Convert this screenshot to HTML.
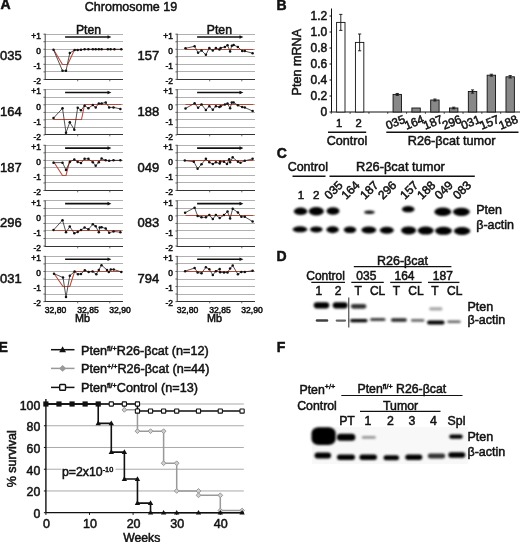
<!DOCTYPE html>
<html><head><meta charset="utf-8"><style>
html,body{margin:0;padding:0;background:#fff;}
svg{display:block;}
text{font-family:"Liberation Sans", Arial, Helvetica, sans-serif;stroke:#111;stroke-width:0.5px;paint-order:stroke;}
</style></head><body>
<svg width="520" height="542" viewBox="0 0 520 542">
<defs><filter id="b5" x="-50%" y="-100%" width="200%" height="300%"><feGaussianBlur stdDeviation="0.5"/></filter><filter id="b8" x="-50%" y="-100%" width="200%" height="300%"><feGaussianBlur stdDeviation="0.8"/></filter><filter id="b10" x="-50%" y="-100%" width="200%" height="300%"><feGaussianBlur stdDeviation="1.0"/></filter><filter id="b15" x="-50%" y="-100%" width="200%" height="300%"><feGaussianBlur stdDeviation="1.5"/></filter><filter id="b20" x="-50%" y="-100%" width="200%" height="300%"><feGaussianBlur stdDeviation="2.0"/></filter></defs>
<rect width="520" height="542" fill="#fff"/>
<text x="0.50" y="9.40" font-size="14" text-anchor="start" font-weight="bold" fill="#111" >A</text>
<text x="131.00" y="11.00" font-size="12.5" text-anchor="middle" font-weight="normal" fill="#111" >Chromosome 19</text>
<line x1="45.20" y1="34.50" x2="123.00" y2="34.50" stroke="#b0b0b0" stroke-width="1"/>
<line x1="45.20" y1="41.50" x2="123.00" y2="41.50" stroke="#b0b0b0" stroke-width="1"/>
<line x1="45.20" y1="49.50" x2="123.00" y2="49.50" stroke="#b0b0b0" stroke-width="1"/>
<line x1="45.20" y1="56.50" x2="123.00" y2="56.50" stroke="#b0b0b0" stroke-width="1"/>
<line x1="45.20" y1="64.50" x2="123.00" y2="64.50" stroke="#b0b0b0" stroke-width="1"/>
<line x1="45.20" y1="71.50" x2="123.00" y2="71.50" stroke="#b0b0b0" stroke-width="1"/>
<line x1="45.20" y1="33.70" x2="45.20" y2="80.00" stroke="#444" stroke-width="1"/>
<line x1="44.70" y1="79.50" x2="123.00" y2="79.50" stroke="#333" stroke-width="1"/>
<line x1="43.40" y1="34.20" x2="45.20" y2="34.20" stroke="#444" stroke-width="0.8"/>
<line x1="43.40" y1="41.73" x2="45.20" y2="41.73" stroke="#444" stroke-width="0.8"/>
<line x1="43.40" y1="49.27" x2="45.20" y2="49.27" stroke="#444" stroke-width="0.8"/>
<line x1="43.40" y1="56.81" x2="45.20" y2="56.81" stroke="#444" stroke-width="0.8"/>
<line x1="43.40" y1="64.34" x2="45.20" y2="64.34" stroke="#444" stroke-width="0.8"/>
<line x1="43.40" y1="71.88" x2="45.20" y2="71.88" stroke="#444" stroke-width="0.8"/>
<line x1="43.40" y1="79.41" x2="45.20" y2="79.41" stroke="#444" stroke-width="0.8"/>
<line x1="77.70" y1="79.50" x2="77.70" y2="81.30" stroke="#444" stroke-width="0.8"/>
<line x1="109.80" y1="79.50" x2="109.80" y2="81.30" stroke="#444" stroke-width="0.8"/>
<text x="40.90" y="38.90" font-size="8.4" text-anchor="end" font-weight="normal" fill="#111" >+1</text>
<text x="40.90" y="53.97" font-size="8.4" text-anchor="end" font-weight="normal" fill="#111" >0</text>
<text x="40.90" y="69.04" font-size="8.4" text-anchor="end" font-weight="normal" fill="#111" >-1</text>
<text x="40.90" y="84.11" font-size="8.4" text-anchor="end" font-weight="normal" fill="#111" >-2</text>
<line x1="65.10" y1="37.00" x2="108.70" y2="37.00" stroke="#111" stroke-width="1.6"/>
<path d="M107.50,35.20 L111.40,37.00 L107.50,38.80 Z" fill="#111"/>
<text x="88.50" y="33.60" font-size="12.2" text-anchor="middle" font-weight="normal" fill="#111" >Pten</text>
<text x="0.00" y="60.40" font-size="13" text-anchor="start" font-weight="normal" fill="#111" >035</text>
<polyline points="53.50,49.50 62.50,64.50 67.70,64.50 74.60,49.50 121.30,49.50" fill="none" stroke="#b8483a" stroke-width="1.05"/>
<polyline points="53.50,49.72 62.50,70.82 66.00,70.82 69.80,53.04 74.60,50.02 77.70,50.02 81.00,49.72 84.60,49.27 88.40,49.27 92.80,49.27 95.70,49.27 98.80,49.27 101.60,49.27 107.80,49.27 110.60,49.27 114.40,49.27 121.30,49.27" fill="none" stroke="#333" stroke-width="0.85"/>
<circle cx="53.50" cy="49.72" r="1.25" fill="#111"/>
<circle cx="62.50" cy="70.82" r="1.25" fill="#111"/>
<circle cx="66.00" cy="70.82" r="1.25" fill="#111"/>
<circle cx="69.80" cy="53.04" r="1.25" fill="#111"/>
<circle cx="74.60" cy="50.02" r="1.25" fill="#111"/>
<circle cx="77.70" cy="50.02" r="1.25" fill="#111"/>
<circle cx="81.00" cy="49.72" r="1.25" fill="#111"/>
<circle cx="84.60" cy="49.27" r="1.25" fill="#111"/>
<circle cx="88.40" cy="49.27" r="1.25" fill="#111"/>
<circle cx="92.80" cy="49.27" r="1.25" fill="#111"/>
<circle cx="95.70" cy="49.27" r="1.25" fill="#111"/>
<circle cx="98.80" cy="49.27" r="1.25" fill="#111"/>
<circle cx="101.60" cy="49.27" r="1.25" fill="#111"/>
<circle cx="107.80" cy="49.27" r="1.25" fill="#111"/>
<circle cx="110.60" cy="49.27" r="1.25" fill="#111"/>
<circle cx="114.40" cy="49.27" r="1.25" fill="#111"/>
<circle cx="121.30" cy="49.27" r="1.25" fill="#111"/>
<line x1="45.20" y1="89.50" x2="123.00" y2="89.50" stroke="#b0b0b0" stroke-width="1"/>
<line x1="45.20" y1="97.50" x2="123.00" y2="97.50" stroke="#b0b0b0" stroke-width="1"/>
<line x1="45.20" y1="104.50" x2="123.00" y2="104.50" stroke="#b0b0b0" stroke-width="1"/>
<line x1="45.20" y1="112.50" x2="123.00" y2="112.50" stroke="#b0b0b0" stroke-width="1"/>
<line x1="45.20" y1="119.50" x2="123.00" y2="119.50" stroke="#b0b0b0" stroke-width="1"/>
<line x1="45.20" y1="127.50" x2="123.00" y2="127.50" stroke="#b0b0b0" stroke-width="1"/>
<line x1="45.20" y1="89.25" x2="45.20" y2="135.00" stroke="#444" stroke-width="1"/>
<line x1="44.70" y1="134.50" x2="123.00" y2="134.50" stroke="#333" stroke-width="1"/>
<line x1="43.40" y1="89.75" x2="45.20" y2="89.75" stroke="#444" stroke-width="0.8"/>
<line x1="43.40" y1="97.28" x2="45.20" y2="97.28" stroke="#444" stroke-width="0.8"/>
<line x1="43.40" y1="104.82" x2="45.20" y2="104.82" stroke="#444" stroke-width="0.8"/>
<line x1="43.40" y1="112.36" x2="45.20" y2="112.36" stroke="#444" stroke-width="0.8"/>
<line x1="43.40" y1="119.89" x2="45.20" y2="119.89" stroke="#444" stroke-width="0.8"/>
<line x1="43.40" y1="127.42" x2="45.20" y2="127.42" stroke="#444" stroke-width="0.8"/>
<line x1="43.40" y1="134.96" x2="45.20" y2="134.96" stroke="#444" stroke-width="0.8"/>
<line x1="77.70" y1="134.50" x2="77.70" y2="136.30" stroke="#444" stroke-width="0.8"/>
<line x1="109.80" y1="134.50" x2="109.80" y2="136.30" stroke="#444" stroke-width="0.8"/>
<text x="40.90" y="94.45" font-size="8.4" text-anchor="end" font-weight="normal" fill="#111" >+1</text>
<text x="40.90" y="109.52" font-size="8.4" text-anchor="end" font-weight="normal" fill="#111" >0</text>
<text x="40.90" y="124.59" font-size="8.4" text-anchor="end" font-weight="normal" fill="#111" >-1</text>
<text x="40.90" y="139.66" font-size="8.4" text-anchor="end" font-weight="normal" fill="#111" >-2</text>
<line x1="65.10" y1="92.55" x2="108.70" y2="92.55" stroke="#111" stroke-width="1.6"/>
<path d="M107.50,90.75 L111.40,92.55 L107.50,94.35 Z" fill="#111"/>
<text x="0.00" y="115.95" font-size="13" text-anchor="start" font-weight="normal" fill="#111" >164</text>
<polyline points="53.50,119.50 81.50,119.50 84.60,104.50 121.30,104.50" fill="none" stroke="#b8483a" stroke-width="1.05"/>
<polyline points="53.50,118.08 62.50,108.29 66.00,132.70 69.80,122.30 74.30,129.69 77.70,107.68 81.00,110.25 84.60,105.72 88.40,108.14 92.80,105.12 95.70,107.38 98.80,103.46 101.60,103.46 105.70,102.56 109.20,107.38 113.50,107.38 120.40,108.89" fill="none" stroke="#333" stroke-width="0.85"/>
<circle cx="53.50" cy="118.08" r="1.25" fill="#111"/>
<circle cx="62.50" cy="108.29" r="1.25" fill="#111"/>
<circle cx="66.00" cy="132.70" r="1.25" fill="#111"/>
<circle cx="69.80" cy="122.30" r="1.25" fill="#111"/>
<circle cx="74.30" cy="129.69" r="1.25" fill="#111"/>
<circle cx="77.70" cy="107.68" r="1.25" fill="#111"/>
<circle cx="81.00" cy="110.25" r="1.25" fill="#111"/>
<circle cx="84.60" cy="105.72" r="1.25" fill="#111"/>
<circle cx="88.40" cy="108.14" r="1.25" fill="#111"/>
<circle cx="92.80" cy="105.12" r="1.25" fill="#111"/>
<circle cx="95.70" cy="107.38" r="1.25" fill="#111"/>
<circle cx="98.80" cy="103.46" r="1.25" fill="#111"/>
<circle cx="101.60" cy="103.46" r="1.25" fill="#111"/>
<circle cx="105.70" cy="102.56" r="1.25" fill="#111"/>
<circle cx="109.20" cy="107.38" r="1.25" fill="#111"/>
<circle cx="113.50" cy="107.38" r="1.25" fill="#111"/>
<circle cx="120.40" cy="108.89" r="1.25" fill="#111"/>
<line x1="45.20" y1="145.50" x2="123.00" y2="145.50" stroke="#b0b0b0" stroke-width="1"/>
<line x1="45.20" y1="152.50" x2="123.00" y2="152.50" stroke="#b0b0b0" stroke-width="1"/>
<line x1="45.20" y1="160.50" x2="123.00" y2="160.50" stroke="#b0b0b0" stroke-width="1"/>
<line x1="45.20" y1="167.50" x2="123.00" y2="167.50" stroke="#b0b0b0" stroke-width="1"/>
<line x1="45.20" y1="175.50" x2="123.00" y2="175.50" stroke="#b0b0b0" stroke-width="1"/>
<line x1="45.20" y1="182.50" x2="123.00" y2="182.50" stroke="#b0b0b0" stroke-width="1"/>
<line x1="45.20" y1="144.80" x2="45.20" y2="191.00" stroke="#444" stroke-width="1"/>
<line x1="44.70" y1="190.50" x2="123.00" y2="190.50" stroke="#333" stroke-width="1"/>
<line x1="43.40" y1="145.30" x2="45.20" y2="145.30" stroke="#444" stroke-width="0.8"/>
<line x1="43.40" y1="152.84" x2="45.20" y2="152.84" stroke="#444" stroke-width="0.8"/>
<line x1="43.40" y1="160.37" x2="45.20" y2="160.37" stroke="#444" stroke-width="0.8"/>
<line x1="43.40" y1="167.91" x2="45.20" y2="167.91" stroke="#444" stroke-width="0.8"/>
<line x1="43.40" y1="175.44" x2="45.20" y2="175.44" stroke="#444" stroke-width="0.8"/>
<line x1="43.40" y1="182.98" x2="45.20" y2="182.98" stroke="#444" stroke-width="0.8"/>
<line x1="43.40" y1="190.51" x2="45.20" y2="190.51" stroke="#444" stroke-width="0.8"/>
<line x1="77.70" y1="190.50" x2="77.70" y2="192.30" stroke="#444" stroke-width="0.8"/>
<line x1="109.80" y1="190.50" x2="109.80" y2="192.30" stroke="#444" stroke-width="0.8"/>
<text x="40.90" y="150.00" font-size="8.4" text-anchor="end" font-weight="normal" fill="#111" >+1</text>
<text x="40.90" y="165.07" font-size="8.4" text-anchor="end" font-weight="normal" fill="#111" >0</text>
<text x="40.90" y="180.14" font-size="8.4" text-anchor="end" font-weight="normal" fill="#111" >-1</text>
<text x="40.90" y="195.21" font-size="8.4" text-anchor="end" font-weight="normal" fill="#111" >-2</text>
<line x1="65.10" y1="148.10" x2="108.70" y2="148.10" stroke="#111" stroke-width="1.6"/>
<path d="M107.50,146.30 L111.40,148.10 L107.50,149.90 Z" fill="#111"/>
<text x="0.00" y="171.50" font-size="13" text-anchor="start" font-weight="normal" fill="#111" >187</text>
<polyline points="53.50,161.50 62.50,175.50 66.00,175.50 69.80,160.50 121.30,160.50" fill="none" stroke="#b8483a" stroke-width="1.05"/>
<polyline points="53.50,162.63 62.50,162.63 66.00,170.01 69.80,161.88 74.30,159.62 77.70,161.88 81.00,162.93 84.60,158.86 88.40,158.86 92.80,162.18 95.70,165.80 98.80,162.18 101.60,158.56 105.70,160.37 109.20,160.82 113.50,160.37 120.40,160.37" fill="none" stroke="#333" stroke-width="0.85"/>
<circle cx="53.50" cy="162.63" r="1.25" fill="#111"/>
<circle cx="62.50" cy="162.63" r="1.25" fill="#111"/>
<circle cx="66.00" cy="170.01" r="1.25" fill="#111"/>
<circle cx="69.80" cy="161.88" r="1.25" fill="#111"/>
<circle cx="74.30" cy="159.62" r="1.25" fill="#111"/>
<circle cx="77.70" cy="161.88" r="1.25" fill="#111"/>
<circle cx="81.00" cy="162.93" r="1.25" fill="#111"/>
<circle cx="84.60" cy="158.86" r="1.25" fill="#111"/>
<circle cx="88.40" cy="158.86" r="1.25" fill="#111"/>
<circle cx="92.80" cy="162.18" r="1.25" fill="#111"/>
<circle cx="95.70" cy="165.80" r="1.25" fill="#111"/>
<circle cx="98.80" cy="162.18" r="1.25" fill="#111"/>
<circle cx="101.60" cy="158.56" r="1.25" fill="#111"/>
<circle cx="105.70" cy="160.37" r="1.25" fill="#111"/>
<circle cx="109.20" cy="160.82" r="1.25" fill="#111"/>
<circle cx="113.50" cy="160.37" r="1.25" fill="#111"/>
<circle cx="120.40" cy="160.37" r="1.25" fill="#111"/>
<line x1="45.20" y1="200.50" x2="123.00" y2="200.50" stroke="#b0b0b0" stroke-width="1"/>
<line x1="45.20" y1="208.50" x2="123.00" y2="208.50" stroke="#b0b0b0" stroke-width="1"/>
<line x1="45.20" y1="215.50" x2="123.00" y2="215.50" stroke="#b0b0b0" stroke-width="1"/>
<line x1="45.20" y1="223.50" x2="123.00" y2="223.50" stroke="#b0b0b0" stroke-width="1"/>
<line x1="45.20" y1="230.50" x2="123.00" y2="230.50" stroke="#b0b0b0" stroke-width="1"/>
<line x1="45.20" y1="238.50" x2="123.00" y2="238.50" stroke="#b0b0b0" stroke-width="1"/>
<line x1="45.20" y1="200.35" x2="45.20" y2="247.00" stroke="#444" stroke-width="1"/>
<line x1="44.70" y1="246.50" x2="123.00" y2="246.50" stroke="#333" stroke-width="1"/>
<line x1="43.40" y1="200.85" x2="45.20" y2="200.85" stroke="#444" stroke-width="0.8"/>
<line x1="43.40" y1="208.38" x2="45.20" y2="208.38" stroke="#444" stroke-width="0.8"/>
<line x1="43.40" y1="215.92" x2="45.20" y2="215.92" stroke="#444" stroke-width="0.8"/>
<line x1="43.40" y1="223.45" x2="45.20" y2="223.45" stroke="#444" stroke-width="0.8"/>
<line x1="43.40" y1="230.99" x2="45.20" y2="230.99" stroke="#444" stroke-width="0.8"/>
<line x1="43.40" y1="238.52" x2="45.20" y2="238.52" stroke="#444" stroke-width="0.8"/>
<line x1="43.40" y1="246.06" x2="45.20" y2="246.06" stroke="#444" stroke-width="0.8"/>
<line x1="77.70" y1="246.50" x2="77.70" y2="248.30" stroke="#444" stroke-width="0.8"/>
<line x1="109.80" y1="246.50" x2="109.80" y2="248.30" stroke="#444" stroke-width="0.8"/>
<text x="40.90" y="205.55" font-size="8.4" text-anchor="end" font-weight="normal" fill="#111" >+1</text>
<text x="40.90" y="220.62" font-size="8.4" text-anchor="end" font-weight="normal" fill="#111" >0</text>
<text x="40.90" y="235.69" font-size="8.4" text-anchor="end" font-weight="normal" fill="#111" >-1</text>
<text x="40.90" y="250.76" font-size="8.4" text-anchor="end" font-weight="normal" fill="#111" >-2</text>
<line x1="65.10" y1="203.65" x2="108.70" y2="203.65" stroke="#111" stroke-width="1.6"/>
<path d="M107.50,201.85 L111.40,203.65 L107.50,205.45 Z" fill="#111"/>
<text x="0.00" y="227.05" font-size="13" text-anchor="start" font-weight="normal" fill="#111" >296</text>
<polyline points="53.50,230.50 121.30,230.50" fill="none" stroke="#b8483a" stroke-width="1.05"/>
<polyline points="53.50,230.09 62.50,220.14 66.00,232.35 69.80,226.62 74.30,233.25 77.70,231.89 81.00,230.09 84.60,227.52 88.40,229.33 92.80,224.36 95.70,226.17 98.80,232.35 99.70,227.52 101.60,227.22 105.70,228.43 109.20,232.65 113.50,231.44 120.40,232.20" fill="none" stroke="#333" stroke-width="0.85"/>
<circle cx="53.50" cy="230.09" r="1.25" fill="#111"/>
<circle cx="62.50" cy="220.14" r="1.25" fill="#111"/>
<circle cx="66.00" cy="232.35" r="1.25" fill="#111"/>
<circle cx="69.80" cy="226.62" r="1.25" fill="#111"/>
<circle cx="74.30" cy="233.25" r="1.25" fill="#111"/>
<circle cx="77.70" cy="231.89" r="1.25" fill="#111"/>
<circle cx="81.00" cy="230.09" r="1.25" fill="#111"/>
<circle cx="84.60" cy="227.52" r="1.25" fill="#111"/>
<circle cx="88.40" cy="229.33" r="1.25" fill="#111"/>
<circle cx="92.80" cy="224.36" r="1.25" fill="#111"/>
<circle cx="95.70" cy="226.17" r="1.25" fill="#111"/>
<circle cx="98.80" cy="232.35" r="1.25" fill="#111"/>
<circle cx="99.70" cy="227.52" r="1.25" fill="#111"/>
<circle cx="101.60" cy="227.22" r="1.25" fill="#111"/>
<circle cx="105.70" cy="228.43" r="1.25" fill="#111"/>
<circle cx="109.20" cy="232.65" r="1.25" fill="#111"/>
<circle cx="113.50" cy="231.44" r="1.25" fill="#111"/>
<circle cx="120.40" cy="232.20" r="1.25" fill="#111"/>
<line x1="45.20" y1="256.50" x2="123.00" y2="256.50" stroke="#b0b0b0" stroke-width="1"/>
<line x1="45.20" y1="263.50" x2="123.00" y2="263.50" stroke="#b0b0b0" stroke-width="1"/>
<line x1="45.20" y1="271.50" x2="123.00" y2="271.50" stroke="#b0b0b0" stroke-width="1"/>
<line x1="45.20" y1="279.50" x2="123.00" y2="279.50" stroke="#b0b0b0" stroke-width="1"/>
<line x1="45.20" y1="286.50" x2="123.00" y2="286.50" stroke="#b0b0b0" stroke-width="1"/>
<line x1="45.20" y1="294.50" x2="123.00" y2="294.50" stroke="#b0b0b0" stroke-width="1"/>
<line x1="45.20" y1="255.90" x2="45.20" y2="302.00" stroke="#444" stroke-width="1"/>
<line x1="44.70" y1="301.50" x2="123.00" y2="301.50" stroke="#333" stroke-width="1"/>
<line x1="43.40" y1="256.40" x2="45.20" y2="256.40" stroke="#444" stroke-width="0.8"/>
<line x1="43.40" y1="263.94" x2="45.20" y2="263.94" stroke="#444" stroke-width="0.8"/>
<line x1="43.40" y1="271.47" x2="45.20" y2="271.47" stroke="#444" stroke-width="0.8"/>
<line x1="43.40" y1="279.00" x2="45.20" y2="279.00" stroke="#444" stroke-width="0.8"/>
<line x1="43.40" y1="286.54" x2="45.20" y2="286.54" stroke="#444" stroke-width="0.8"/>
<line x1="43.40" y1="294.07" x2="45.20" y2="294.07" stroke="#444" stroke-width="0.8"/>
<line x1="43.40" y1="301.61" x2="45.20" y2="301.61" stroke="#444" stroke-width="0.8"/>
<line x1="77.70" y1="301.50" x2="77.70" y2="303.30" stroke="#444" stroke-width="0.8"/>
<line x1="109.80" y1="301.50" x2="109.80" y2="303.30" stroke="#444" stroke-width="0.8"/>
<text x="40.90" y="261.10" font-size="8.4" text-anchor="end" font-weight="normal" fill="#111" >+1</text>
<text x="40.90" y="276.17" font-size="8.4" text-anchor="end" font-weight="normal" fill="#111" >0</text>
<text x="40.90" y="291.24" font-size="8.4" text-anchor="end" font-weight="normal" fill="#111" >-1</text>
<text x="40.90" y="306.31" font-size="8.4" text-anchor="end" font-weight="normal" fill="#111" >-2</text>
<line x1="65.10" y1="259.20" x2="108.70" y2="259.20" stroke="#111" stroke-width="1.6"/>
<path d="M107.50,257.40 L111.40,259.20 L107.50,261.00 Z" fill="#111"/>
<text x="0.00" y="282.60" font-size="13" text-anchor="start" font-weight="normal" fill="#111" >031</text>
<polyline points="54.00,273.50 63.00,286.50 69.80,286.50 74.60,271.50 121.30,271.50" fill="none" stroke="#b8483a" stroke-width="1.05"/>
<polyline points="54.00,273.73 63.00,277.50 66.00,297.09 69.80,275.69 74.60,271.47 78.00,274.18 81.00,273.88 84.80,270.26 88.60,271.92 92.50,271.47 96.30,274.18 98.80,269.96 101.50,265.14 107.00,269.96 108.80,271.92 110.80,269.51 113.70,269.51 121.30,271.92" fill="none" stroke="#333" stroke-width="0.85"/>
<circle cx="54.00" cy="273.73" r="1.25" fill="#111"/>
<circle cx="63.00" cy="277.50" r="1.25" fill="#111"/>
<circle cx="66.00" cy="297.09" r="1.25" fill="#111"/>
<circle cx="69.80" cy="275.69" r="1.25" fill="#111"/>
<circle cx="74.60" cy="271.47" r="1.25" fill="#111"/>
<circle cx="78.00" cy="274.18" r="1.25" fill="#111"/>
<circle cx="81.00" cy="273.88" r="1.25" fill="#111"/>
<circle cx="84.80" cy="270.26" r="1.25" fill="#111"/>
<circle cx="88.60" cy="271.92" r="1.25" fill="#111"/>
<circle cx="92.50" cy="271.47" r="1.25" fill="#111"/>
<circle cx="96.30" cy="274.18" r="1.25" fill="#111"/>
<circle cx="98.80" cy="269.96" r="1.25" fill="#111"/>
<circle cx="101.50" cy="265.14" r="1.25" fill="#111"/>
<circle cx="107.00" cy="269.96" r="1.25" fill="#111"/>
<circle cx="108.80" cy="271.92" r="1.25" fill="#111"/>
<circle cx="110.80" cy="269.51" r="1.25" fill="#111"/>
<circle cx="113.70" cy="269.51" r="1.25" fill="#111"/>
<circle cx="121.30" cy="271.92" r="1.25" fill="#111"/>
<text x="44.70" y="312.61" font-size="8.6" text-anchor="start" font-weight="normal" fill="#111" >32,80</text>
<text x="77.20" y="312.61" font-size="8.6" text-anchor="start" font-weight="normal" fill="#111" >32,85</text>
<text x="109.30" y="312.61" font-size="8.6" text-anchor="start" font-weight="normal" fill="#111" >32,90</text>
<text x="82.40" y="322.41" font-size="10.8" text-anchor="middle" font-weight="normal" fill="#111" >Mb</text>
<line x1="177.20" y1="34.50" x2="255.00" y2="34.50" stroke="#b0b0b0" stroke-width="1"/>
<line x1="177.20" y1="41.50" x2="255.00" y2="41.50" stroke="#b0b0b0" stroke-width="1"/>
<line x1="177.20" y1="49.50" x2="255.00" y2="49.50" stroke="#b0b0b0" stroke-width="1"/>
<line x1="177.20" y1="56.50" x2="255.00" y2="56.50" stroke="#b0b0b0" stroke-width="1"/>
<line x1="177.20" y1="64.50" x2="255.00" y2="64.50" stroke="#b0b0b0" stroke-width="1"/>
<line x1="177.20" y1="71.50" x2="255.00" y2="71.50" stroke="#b0b0b0" stroke-width="1"/>
<line x1="177.20" y1="33.70" x2="177.20" y2="80.00" stroke="#444" stroke-width="1"/>
<line x1="176.70" y1="79.50" x2="255.00" y2="79.50" stroke="#333" stroke-width="1"/>
<line x1="175.40" y1="34.20" x2="177.20" y2="34.20" stroke="#444" stroke-width="0.8"/>
<line x1="175.40" y1="41.73" x2="177.20" y2="41.73" stroke="#444" stroke-width="0.8"/>
<line x1="175.40" y1="49.27" x2="177.20" y2="49.27" stroke="#444" stroke-width="0.8"/>
<line x1="175.40" y1="56.81" x2="177.20" y2="56.81" stroke="#444" stroke-width="0.8"/>
<line x1="175.40" y1="64.34" x2="177.20" y2="64.34" stroke="#444" stroke-width="0.8"/>
<line x1="175.40" y1="71.88" x2="177.20" y2="71.88" stroke="#444" stroke-width="0.8"/>
<line x1="175.40" y1="79.41" x2="177.20" y2="79.41" stroke="#444" stroke-width="0.8"/>
<line x1="209.70" y1="79.50" x2="209.70" y2="81.30" stroke="#444" stroke-width="0.8"/>
<line x1="241.80" y1="79.50" x2="241.80" y2="81.30" stroke="#444" stroke-width="0.8"/>
<text x="172.90" y="38.90" font-size="8.4" text-anchor="end" font-weight="normal" fill="#111" >+1</text>
<text x="172.90" y="53.97" font-size="8.4" text-anchor="end" font-weight="normal" fill="#111" >0</text>
<text x="172.90" y="69.04" font-size="8.4" text-anchor="end" font-weight="normal" fill="#111" >-1</text>
<text x="172.90" y="84.11" font-size="8.4" text-anchor="end" font-weight="normal" fill="#111" >-2</text>
<line x1="197.10" y1="37.00" x2="240.70" y2="37.00" stroke="#111" stroke-width="1.6"/>
<path d="M239.50,35.20 L243.40,37.00 L239.50,38.80 Z" fill="#111"/>
<text x="219.40" y="33.60" font-size="12.2" text-anchor="middle" font-weight="normal" fill="#111" >Pten</text>
<text x="137.50" y="60.40" font-size="13" text-anchor="start" font-weight="normal" fill="#111" >157</text>
<polyline points="185.50,49.50 253.30,49.50" fill="none" stroke="#b8483a" stroke-width="1.05"/>
<polyline points="185.50,48.37 194.60,46.26 198.10,52.74 201.50,50.48 205.90,54.85 209.30,47.91 212.80,50.48 215.90,47.91 219.40,49.57 220.60,47.91 224.90,47.01 227.50,45.20 230.10,51.38 231.80,45.80 233.60,44.90 237.90,47.01 242.20,51.08 244.80,51.08 252.60,53.19" fill="none" stroke="#333" stroke-width="0.85"/>
<circle cx="185.50" cy="48.37" r="1.25" fill="#111"/>
<circle cx="194.60" cy="46.26" r="1.25" fill="#111"/>
<circle cx="198.10" cy="52.74" r="1.25" fill="#111"/>
<circle cx="201.50" cy="50.48" r="1.25" fill="#111"/>
<circle cx="205.90" cy="54.85" r="1.25" fill="#111"/>
<circle cx="209.30" cy="47.91" r="1.25" fill="#111"/>
<circle cx="212.80" cy="50.48" r="1.25" fill="#111"/>
<circle cx="215.90" cy="47.91" r="1.25" fill="#111"/>
<circle cx="219.40" cy="49.57" r="1.25" fill="#111"/>
<circle cx="220.60" cy="47.91" r="1.25" fill="#111"/>
<circle cx="224.90" cy="47.01" r="1.25" fill="#111"/>
<circle cx="227.50" cy="45.20" r="1.25" fill="#111"/>
<circle cx="230.10" cy="51.38" r="1.25" fill="#111"/>
<circle cx="231.80" cy="45.80" r="1.25" fill="#111"/>
<circle cx="233.60" cy="44.90" r="1.25" fill="#111"/>
<circle cx="237.90" cy="47.01" r="1.25" fill="#111"/>
<circle cx="242.20" cy="51.08" r="1.25" fill="#111"/>
<circle cx="244.80" cy="51.08" r="1.25" fill="#111"/>
<circle cx="252.60" cy="53.19" r="1.25" fill="#111"/>
<line x1="177.20" y1="89.50" x2="255.00" y2="89.50" stroke="#b0b0b0" stroke-width="1"/>
<line x1="177.20" y1="97.50" x2="255.00" y2="97.50" stroke="#b0b0b0" stroke-width="1"/>
<line x1="177.20" y1="104.50" x2="255.00" y2="104.50" stroke="#b0b0b0" stroke-width="1"/>
<line x1="177.20" y1="112.50" x2="255.00" y2="112.50" stroke="#b0b0b0" stroke-width="1"/>
<line x1="177.20" y1="119.50" x2="255.00" y2="119.50" stroke="#b0b0b0" stroke-width="1"/>
<line x1="177.20" y1="127.50" x2="255.00" y2="127.50" stroke="#b0b0b0" stroke-width="1"/>
<line x1="177.20" y1="89.25" x2="177.20" y2="135.00" stroke="#444" stroke-width="1"/>
<line x1="176.70" y1="134.50" x2="255.00" y2="134.50" stroke="#333" stroke-width="1"/>
<line x1="175.40" y1="89.75" x2="177.20" y2="89.75" stroke="#444" stroke-width="0.8"/>
<line x1="175.40" y1="97.28" x2="177.20" y2="97.28" stroke="#444" stroke-width="0.8"/>
<line x1="175.40" y1="104.82" x2="177.20" y2="104.82" stroke="#444" stroke-width="0.8"/>
<line x1="175.40" y1="112.36" x2="177.20" y2="112.36" stroke="#444" stroke-width="0.8"/>
<line x1="175.40" y1="119.89" x2="177.20" y2="119.89" stroke="#444" stroke-width="0.8"/>
<line x1="175.40" y1="127.42" x2="177.20" y2="127.42" stroke="#444" stroke-width="0.8"/>
<line x1="175.40" y1="134.96" x2="177.20" y2="134.96" stroke="#444" stroke-width="0.8"/>
<line x1="209.70" y1="134.50" x2="209.70" y2="136.30" stroke="#444" stroke-width="0.8"/>
<line x1="241.80" y1="134.50" x2="241.80" y2="136.30" stroke="#444" stroke-width="0.8"/>
<text x="172.90" y="94.45" font-size="8.4" text-anchor="end" font-weight="normal" fill="#111" >+1</text>
<text x="172.90" y="109.52" font-size="8.4" text-anchor="end" font-weight="normal" fill="#111" >0</text>
<text x="172.90" y="124.59" font-size="8.4" text-anchor="end" font-weight="normal" fill="#111" >-1</text>
<text x="172.90" y="139.66" font-size="8.4" text-anchor="end" font-weight="normal" fill="#111" >-2</text>
<line x1="197.10" y1="92.55" x2="240.70" y2="92.55" stroke="#111" stroke-width="1.6"/>
<path d="M239.50,90.75 L243.40,92.55 L239.50,94.35 Z" fill="#111"/>
<text x="137.50" y="115.95" font-size="13" text-anchor="start" font-weight="normal" fill="#111" >188</text>
<polyline points="185.50,104.50 253.30,104.50" fill="none" stroke="#b8483a" stroke-width="1.05"/>
<polyline points="185.50,108.44 194.60,103.31 198.10,107.83 201.50,104.52 205.90,109.94 209.30,106.18 212.80,109.64 215.90,106.18 219.40,107.08 220.60,106.18 224.90,104.52 227.50,103.61 230.10,108.29 231.80,102.41 233.60,102.41 237.90,105.27 242.20,107.08 244.80,107.53 252.60,111.00" fill="none" stroke="#333" stroke-width="0.85"/>
<circle cx="185.50" cy="108.44" r="1.25" fill="#111"/>
<circle cx="194.60" cy="103.31" r="1.25" fill="#111"/>
<circle cx="198.10" cy="107.83" r="1.25" fill="#111"/>
<circle cx="201.50" cy="104.52" r="1.25" fill="#111"/>
<circle cx="205.90" cy="109.94" r="1.25" fill="#111"/>
<circle cx="209.30" cy="106.18" r="1.25" fill="#111"/>
<circle cx="212.80" cy="109.64" r="1.25" fill="#111"/>
<circle cx="215.90" cy="106.18" r="1.25" fill="#111"/>
<circle cx="219.40" cy="107.08" r="1.25" fill="#111"/>
<circle cx="220.60" cy="106.18" r="1.25" fill="#111"/>
<circle cx="224.90" cy="104.52" r="1.25" fill="#111"/>
<circle cx="227.50" cy="103.61" r="1.25" fill="#111"/>
<circle cx="230.10" cy="108.29" r="1.25" fill="#111"/>
<circle cx="231.80" cy="102.41" r="1.25" fill="#111"/>
<circle cx="233.60" cy="102.41" r="1.25" fill="#111"/>
<circle cx="237.90" cy="105.27" r="1.25" fill="#111"/>
<circle cx="242.20" cy="107.08" r="1.25" fill="#111"/>
<circle cx="244.80" cy="107.53" r="1.25" fill="#111"/>
<circle cx="252.60" cy="111.00" r="1.25" fill="#111"/>
<line x1="177.20" y1="145.50" x2="255.00" y2="145.50" stroke="#b0b0b0" stroke-width="1"/>
<line x1="177.20" y1="152.50" x2="255.00" y2="152.50" stroke="#b0b0b0" stroke-width="1"/>
<line x1="177.20" y1="160.50" x2="255.00" y2="160.50" stroke="#b0b0b0" stroke-width="1"/>
<line x1="177.20" y1="167.50" x2="255.00" y2="167.50" stroke="#b0b0b0" stroke-width="1"/>
<line x1="177.20" y1="175.50" x2="255.00" y2="175.50" stroke="#b0b0b0" stroke-width="1"/>
<line x1="177.20" y1="182.50" x2="255.00" y2="182.50" stroke="#b0b0b0" stroke-width="1"/>
<line x1="177.20" y1="144.80" x2="177.20" y2="191.00" stroke="#444" stroke-width="1"/>
<line x1="176.70" y1="190.50" x2="255.00" y2="190.50" stroke="#333" stroke-width="1"/>
<line x1="175.40" y1="145.30" x2="177.20" y2="145.30" stroke="#444" stroke-width="0.8"/>
<line x1="175.40" y1="152.84" x2="177.20" y2="152.84" stroke="#444" stroke-width="0.8"/>
<line x1="175.40" y1="160.37" x2="177.20" y2="160.37" stroke="#444" stroke-width="0.8"/>
<line x1="175.40" y1="167.91" x2="177.20" y2="167.91" stroke="#444" stroke-width="0.8"/>
<line x1="175.40" y1="175.44" x2="177.20" y2="175.44" stroke="#444" stroke-width="0.8"/>
<line x1="175.40" y1="182.98" x2="177.20" y2="182.98" stroke="#444" stroke-width="0.8"/>
<line x1="175.40" y1="190.51" x2="177.20" y2="190.51" stroke="#444" stroke-width="0.8"/>
<line x1="209.70" y1="190.50" x2="209.70" y2="192.30" stroke="#444" stroke-width="0.8"/>
<line x1="241.80" y1="190.50" x2="241.80" y2="192.30" stroke="#444" stroke-width="0.8"/>
<text x="172.90" y="150.00" font-size="8.4" text-anchor="end" font-weight="normal" fill="#111" >+1</text>
<text x="172.90" y="165.07" font-size="8.4" text-anchor="end" font-weight="normal" fill="#111" >0</text>
<text x="172.90" y="180.14" font-size="8.4" text-anchor="end" font-weight="normal" fill="#111" >-1</text>
<text x="172.90" y="195.21" font-size="8.4" text-anchor="end" font-weight="normal" fill="#111" >-2</text>
<line x1="197.10" y1="148.10" x2="240.70" y2="148.10" stroke="#111" stroke-width="1.6"/>
<path d="M239.50,146.30 L243.40,148.10 L239.50,149.90 Z" fill="#111"/>
<text x="137.50" y="171.50" font-size="13" text-anchor="start" font-weight="normal" fill="#111" >049</text>
<polyline points="185.50,160.50 253.30,160.50" fill="none" stroke="#b8483a" stroke-width="1.05"/>
<polyline points="184.80,160.52 193.80,161.73 197.60,168.66 201.50,164.29 205.90,158.86 209.30,162.33 212.80,163.99 215.90,162.33 219.70,163.38 220.10,161.73 224.00,161.73 227.00,163.99 229.20,159.16 230.10,162.33 232.70,157.36 237.90,161.73 240.50,162.63 244.80,160.82 252.60,158.86" fill="none" stroke="#333" stroke-width="0.85"/>
<circle cx="184.80" cy="160.52" r="1.25" fill="#111"/>
<circle cx="193.80" cy="161.73" r="1.25" fill="#111"/>
<circle cx="197.60" cy="168.66" r="1.25" fill="#111"/>
<circle cx="201.50" cy="164.29" r="1.25" fill="#111"/>
<circle cx="205.90" cy="158.86" r="1.25" fill="#111"/>
<circle cx="209.30" cy="162.33" r="1.25" fill="#111"/>
<circle cx="212.80" cy="163.99" r="1.25" fill="#111"/>
<circle cx="215.90" cy="162.33" r="1.25" fill="#111"/>
<circle cx="219.70" cy="163.38" r="1.25" fill="#111"/>
<circle cx="220.10" cy="161.73" r="1.25" fill="#111"/>
<circle cx="224.00" cy="161.73" r="1.25" fill="#111"/>
<circle cx="227.00" cy="163.99" r="1.25" fill="#111"/>
<circle cx="229.20" cy="159.16" r="1.25" fill="#111"/>
<circle cx="230.10" cy="162.33" r="1.25" fill="#111"/>
<circle cx="232.70" cy="157.36" r="1.25" fill="#111"/>
<circle cx="237.90" cy="161.73" r="1.25" fill="#111"/>
<circle cx="240.50" cy="162.63" r="1.25" fill="#111"/>
<circle cx="244.80" cy="160.82" r="1.25" fill="#111"/>
<circle cx="252.60" cy="158.86" r="1.25" fill="#111"/>
<line x1="177.20" y1="200.50" x2="255.00" y2="200.50" stroke="#b0b0b0" stroke-width="1"/>
<line x1="177.20" y1="208.50" x2="255.00" y2="208.50" stroke="#b0b0b0" stroke-width="1"/>
<line x1="177.20" y1="215.50" x2="255.00" y2="215.50" stroke="#b0b0b0" stroke-width="1"/>
<line x1="177.20" y1="223.50" x2="255.00" y2="223.50" stroke="#b0b0b0" stroke-width="1"/>
<line x1="177.20" y1="230.50" x2="255.00" y2="230.50" stroke="#b0b0b0" stroke-width="1"/>
<line x1="177.20" y1="238.50" x2="255.00" y2="238.50" stroke="#b0b0b0" stroke-width="1"/>
<line x1="177.20" y1="200.35" x2="177.20" y2="247.00" stroke="#444" stroke-width="1"/>
<line x1="176.70" y1="246.50" x2="255.00" y2="246.50" stroke="#333" stroke-width="1"/>
<line x1="175.40" y1="200.85" x2="177.20" y2="200.85" stroke="#444" stroke-width="0.8"/>
<line x1="175.40" y1="208.38" x2="177.20" y2="208.38" stroke="#444" stroke-width="0.8"/>
<line x1="175.40" y1="215.92" x2="177.20" y2="215.92" stroke="#444" stroke-width="0.8"/>
<line x1="175.40" y1="223.45" x2="177.20" y2="223.45" stroke="#444" stroke-width="0.8"/>
<line x1="175.40" y1="230.99" x2="177.20" y2="230.99" stroke="#444" stroke-width="0.8"/>
<line x1="175.40" y1="238.52" x2="177.20" y2="238.52" stroke="#444" stroke-width="0.8"/>
<line x1="175.40" y1="246.06" x2="177.20" y2="246.06" stroke="#444" stroke-width="0.8"/>
<line x1="209.70" y1="246.50" x2="209.70" y2="248.30" stroke="#444" stroke-width="0.8"/>
<line x1="241.80" y1="246.50" x2="241.80" y2="248.30" stroke="#444" stroke-width="0.8"/>
<text x="172.90" y="205.55" font-size="8.4" text-anchor="end" font-weight="normal" fill="#111" >+1</text>
<text x="172.90" y="220.62" font-size="8.4" text-anchor="end" font-weight="normal" fill="#111" >0</text>
<text x="172.90" y="235.69" font-size="8.4" text-anchor="end" font-weight="normal" fill="#111" >-1</text>
<text x="172.90" y="250.76" font-size="8.4" text-anchor="end" font-weight="normal" fill="#111" >-2</text>
<line x1="197.10" y1="203.65" x2="240.70" y2="203.65" stroke="#111" stroke-width="1.6"/>
<path d="M239.50,201.85 L243.40,203.65 L239.50,205.45 Z" fill="#111"/>
<text x="137.50" y="227.05" font-size="13" text-anchor="start" font-weight="normal" fill="#111" >083</text>
<polyline points="185.50,215.50 253.30,215.50" fill="none" stroke="#b8483a" stroke-width="1.05"/>
<polyline points="185.10,212.76 194.60,207.63 197.60,215.92 201.50,217.28 205.90,217.28 209.30,215.02 212.80,219.08 215.90,215.02 219.70,218.03 224.00,215.02 227.50,211.55 230.10,218.48 232.70,208.69 237.90,212.45 241.30,216.82 244.80,216.82 252.60,221.50" fill="none" stroke="#333" stroke-width="0.85"/>
<circle cx="185.10" cy="212.76" r="1.25" fill="#111"/>
<circle cx="194.60" cy="207.63" r="1.25" fill="#111"/>
<circle cx="197.60" cy="215.92" r="1.25" fill="#111"/>
<circle cx="201.50" cy="217.28" r="1.25" fill="#111"/>
<circle cx="205.90" cy="217.28" r="1.25" fill="#111"/>
<circle cx="209.30" cy="215.02" r="1.25" fill="#111"/>
<circle cx="212.80" cy="219.08" r="1.25" fill="#111"/>
<circle cx="215.90" cy="215.02" r="1.25" fill="#111"/>
<circle cx="219.70" cy="218.03" r="1.25" fill="#111"/>
<circle cx="224.00" cy="215.02" r="1.25" fill="#111"/>
<circle cx="227.50" cy="211.55" r="1.25" fill="#111"/>
<circle cx="230.10" cy="218.48" r="1.25" fill="#111"/>
<circle cx="232.70" cy="208.69" r="1.25" fill="#111"/>
<circle cx="237.90" cy="212.45" r="1.25" fill="#111"/>
<circle cx="241.30" cy="216.82" r="1.25" fill="#111"/>
<circle cx="244.80" cy="216.82" r="1.25" fill="#111"/>
<circle cx="252.60" cy="221.50" r="1.25" fill="#111"/>
<line x1="177.20" y1="256.50" x2="255.00" y2="256.50" stroke="#b0b0b0" stroke-width="1"/>
<line x1="177.20" y1="263.50" x2="255.00" y2="263.50" stroke="#b0b0b0" stroke-width="1"/>
<line x1="177.20" y1="271.50" x2="255.00" y2="271.50" stroke="#b0b0b0" stroke-width="1"/>
<line x1="177.20" y1="279.50" x2="255.00" y2="279.50" stroke="#b0b0b0" stroke-width="1"/>
<line x1="177.20" y1="286.50" x2="255.00" y2="286.50" stroke="#b0b0b0" stroke-width="1"/>
<line x1="177.20" y1="294.50" x2="255.00" y2="294.50" stroke="#b0b0b0" stroke-width="1"/>
<line x1="177.20" y1="255.90" x2="177.20" y2="302.00" stroke="#444" stroke-width="1"/>
<line x1="176.70" y1="301.50" x2="255.00" y2="301.50" stroke="#333" stroke-width="1"/>
<line x1="175.40" y1="256.40" x2="177.20" y2="256.40" stroke="#444" stroke-width="0.8"/>
<line x1="175.40" y1="263.94" x2="177.20" y2="263.94" stroke="#444" stroke-width="0.8"/>
<line x1="175.40" y1="271.47" x2="177.20" y2="271.47" stroke="#444" stroke-width="0.8"/>
<line x1="175.40" y1="279.00" x2="177.20" y2="279.00" stroke="#444" stroke-width="0.8"/>
<line x1="175.40" y1="286.54" x2="177.20" y2="286.54" stroke="#444" stroke-width="0.8"/>
<line x1="175.40" y1="294.07" x2="177.20" y2="294.07" stroke="#444" stroke-width="0.8"/>
<line x1="175.40" y1="301.61" x2="177.20" y2="301.61" stroke="#444" stroke-width="0.8"/>
<line x1="209.70" y1="301.50" x2="209.70" y2="303.30" stroke="#444" stroke-width="0.8"/>
<line x1="241.80" y1="301.50" x2="241.80" y2="303.30" stroke="#444" stroke-width="0.8"/>
<text x="172.90" y="261.10" font-size="8.4" text-anchor="end" font-weight="normal" fill="#111" >+1</text>
<text x="172.90" y="276.17" font-size="8.4" text-anchor="end" font-weight="normal" fill="#111" >0</text>
<text x="172.90" y="291.24" font-size="8.4" text-anchor="end" font-weight="normal" fill="#111" >-1</text>
<text x="172.90" y="306.31" font-size="8.4" text-anchor="end" font-weight="normal" fill="#111" >-2</text>
<line x1="197.10" y1="259.20" x2="240.70" y2="259.20" stroke="#111" stroke-width="1.6"/>
<path d="M239.50,257.40 L243.40,259.20 L239.50,261.00 Z" fill="#111"/>
<text x="137.50" y="282.60" font-size="13" text-anchor="start" font-weight="normal" fill="#111" >794</text>
<polyline points="185.50,271.50 253.30,271.50" fill="none" stroke="#b8483a" stroke-width="1.05"/>
<polyline points="185.10,271.17 194.60,268.00 197.60,272.52 201.50,273.13 205.90,267.25 209.30,269.36 212.80,274.94 215.90,271.17 219.70,269.06 220.10,272.22 224.00,272.52 227.50,272.52 230.10,268.46 232.70,265.59 237.90,274.18 241.30,271.92 244.80,271.92 252.60,270.72" fill="none" stroke="#333" stroke-width="0.85"/>
<circle cx="185.10" cy="271.17" r="1.25" fill="#111"/>
<circle cx="194.60" cy="268.00" r="1.25" fill="#111"/>
<circle cx="197.60" cy="272.52" r="1.25" fill="#111"/>
<circle cx="201.50" cy="273.13" r="1.25" fill="#111"/>
<circle cx="205.90" cy="267.25" r="1.25" fill="#111"/>
<circle cx="209.30" cy="269.36" r="1.25" fill="#111"/>
<circle cx="212.80" cy="274.94" r="1.25" fill="#111"/>
<circle cx="215.90" cy="271.17" r="1.25" fill="#111"/>
<circle cx="219.70" cy="269.06" r="1.25" fill="#111"/>
<circle cx="220.10" cy="272.22" r="1.25" fill="#111"/>
<circle cx="224.00" cy="272.52" r="1.25" fill="#111"/>
<circle cx="227.50" cy="272.52" r="1.25" fill="#111"/>
<circle cx="230.10" cy="268.46" r="1.25" fill="#111"/>
<circle cx="232.70" cy="265.59" r="1.25" fill="#111"/>
<circle cx="237.90" cy="274.18" r="1.25" fill="#111"/>
<circle cx="241.30" cy="271.92" r="1.25" fill="#111"/>
<circle cx="244.80" cy="271.92" r="1.25" fill="#111"/>
<circle cx="252.60" cy="270.72" r="1.25" fill="#111"/>
<text x="176.70" y="312.61" font-size="8.6" text-anchor="start" font-weight="normal" fill="#111" >32,80</text>
<text x="209.20" y="312.61" font-size="8.6" text-anchor="start" font-weight="normal" fill="#111" >32,85</text>
<text x="241.30" y="312.61" font-size="8.6" text-anchor="start" font-weight="normal" fill="#111" >32,90</text>
<text x="214.40" y="322.41" font-size="10.8" text-anchor="middle" font-weight="normal" fill="#111" >Mb</text>
<text x="276.60" y="9.60" font-size="14" text-anchor="start" font-weight="bold" fill="#111" >B</text>
<line x1="331.5" y1="8.5" x2="331.5" y2="112.0" stroke="#111" stroke-width="1"/>
<line x1="331.5" y1="112.0" x2="520" y2="112.0" stroke="#111" stroke-width="1"/>
<line x1="329.5" y1="112.00" x2="331.5" y2="112.00" stroke="#111" stroke-width="1"/>
<text x="327.20" y="116.20" font-size="12.0" text-anchor="end" font-weight="normal" fill="#111" >0</text>
<line x1="329.5" y1="96.00" x2="331.5" y2="96.00" stroke="#111" stroke-width="1"/>
<text x="327.20" y="100.20" font-size="12.0" text-anchor="end" font-weight="normal" fill="#111" >0.2</text>
<line x1="329.5" y1="80.00" x2="331.5" y2="80.00" stroke="#111" stroke-width="1"/>
<text x="327.20" y="84.20" font-size="12.0" text-anchor="end" font-weight="normal" fill="#111" >0.4</text>
<line x1="329.5" y1="64.00" x2="331.5" y2="64.00" stroke="#111" stroke-width="1"/>
<text x="327.20" y="68.20" font-size="12.0" text-anchor="end" font-weight="normal" fill="#111" >0.6</text>
<line x1="329.5" y1="48.00" x2="331.5" y2="48.00" stroke="#111" stroke-width="1"/>
<text x="327.20" y="52.20" font-size="12.0" text-anchor="end" font-weight="normal" fill="#111" >0.8</text>
<line x1="329.5" y1="32.00" x2="331.5" y2="32.00" stroke="#111" stroke-width="1"/>
<text x="327.20" y="36.20" font-size="12.0" text-anchor="end" font-weight="normal" fill="#111" >1.0</text>
<line x1="329.5" y1="16.00" x2="331.5" y2="16.00" stroke="#111" stroke-width="1"/>
<text x="327.20" y="20.20" font-size="12.0" text-anchor="end" font-weight="normal" fill="#111" >1.2</text>
<rect x="336.60" y="22.40" width="8.4" height="89.60" fill="#fff" stroke="#111" stroke-width="0.9"/>
<line x1="340.80" y1="14.40" x2="340.80" y2="30.40" stroke="#111" stroke-width="0.9"/>
<line x1="339.20" y1="14.40" x2="342.40" y2="14.40" stroke="#111" stroke-width="0.9"/>
<line x1="339.20" y1="30.40" x2="342.40" y2="30.40" stroke="#111" stroke-width="0.9"/>
<rect x="355.42" y="42.40" width="8.4" height="69.60" fill="#fff" stroke="#111" stroke-width="0.9"/>
<line x1="359.62" y1="34.00" x2="359.62" y2="50.80" stroke="#111" stroke-width="0.9"/>
<line x1="358.02" y1="34.00" x2="361.22" y2="34.00" stroke="#111" stroke-width="0.9"/>
<line x1="358.02" y1="50.80" x2="361.22" y2="50.80" stroke="#111" stroke-width="0.9"/>
<rect x="393.06" y="94.40" width="8.4" height="17.60" fill="#888" stroke="#111" stroke-width="0.9"/>
<line x1="397.26" y1="93.44" x2="397.26" y2="95.36" stroke="#111" stroke-width="0.9"/>
<line x1="395.66" y1="93.44" x2="398.86" y2="93.44" stroke="#111" stroke-width="0.9"/>
<line x1="395.66" y1="95.36" x2="398.86" y2="95.36" stroke="#111" stroke-width="0.9"/>
<rect x="411.88" y="108.00" width="8.4" height="4.00" fill="#888" stroke="#111" stroke-width="0.9"/>
<rect x="430.70" y="100.00" width="8.4" height="12.00" fill="#888" stroke="#111" stroke-width="0.9"/>
<line x1="434.90" y1="99.04" x2="434.90" y2="100.96" stroke="#111" stroke-width="0.9"/>
<line x1="433.30" y1="99.04" x2="436.50" y2="99.04" stroke="#111" stroke-width="0.9"/>
<line x1="433.30" y1="100.96" x2="436.50" y2="100.96" stroke="#111" stroke-width="0.9"/>
<rect x="449.52" y="108.00" width="8.4" height="4.00" fill="#888" stroke="#111" stroke-width="0.9"/>
<line x1="453.72" y1="107.20" x2="453.72" y2="108.80" stroke="#111" stroke-width="0.9"/>
<line x1="452.12" y1="107.20" x2="455.32" y2="107.20" stroke="#111" stroke-width="0.9"/>
<line x1="452.12" y1="108.80" x2="455.32" y2="108.80" stroke="#111" stroke-width="0.9"/>
<rect x="468.34" y="91.52" width="8.4" height="20.48" fill="#888" stroke="#111" stroke-width="0.9"/>
<line x1="472.54" y1="89.92" x2="472.54" y2="93.12" stroke="#111" stroke-width="0.9"/>
<line x1="470.94" y1="89.92" x2="474.14" y2="89.92" stroke="#111" stroke-width="0.9"/>
<line x1="470.94" y1="93.12" x2="474.14" y2="93.12" stroke="#111" stroke-width="0.9"/>
<rect x="487.16" y="75.20" width="8.4" height="36.80" fill="#888" stroke="#111" stroke-width="0.9"/>
<line x1="491.36" y1="74.24" x2="491.36" y2="76.16" stroke="#111" stroke-width="0.9"/>
<line x1="489.76" y1="74.24" x2="492.96" y2="74.24" stroke="#111" stroke-width="0.9"/>
<line x1="489.76" y1="76.16" x2="492.96" y2="76.16" stroke="#111" stroke-width="0.9"/>
<rect x="505.98" y="76.80" width="8.4" height="35.20" fill="#888" stroke="#111" stroke-width="0.9"/>
<line x1="510.18" y1="75.60" x2="510.18" y2="78.00" stroke="#111" stroke-width="0.9"/>
<line x1="508.58" y1="75.60" x2="511.78" y2="75.60" stroke="#111" stroke-width="0.9"/>
<line x1="508.58" y1="78.00" x2="511.78" y2="78.00" stroke="#111" stroke-width="0.9"/>
<line x1="331.30" y1="112.0" x2="331.30" y2="113.8" stroke="#111" stroke-width="0.8"/>
<line x1="350.12" y1="112.0" x2="350.12" y2="113.8" stroke="#111" stroke-width="0.8"/>
<line x1="368.94" y1="112.0" x2="368.94" y2="113.8" stroke="#111" stroke-width="0.8"/>
<line x1="387.76" y1="112.0" x2="387.76" y2="113.8" stroke="#111" stroke-width="0.8"/>
<line x1="406.58" y1="112.0" x2="406.58" y2="113.8" stroke="#111" stroke-width="0.8"/>
<line x1="425.40" y1="112.0" x2="425.40" y2="113.8" stroke="#111" stroke-width="0.8"/>
<line x1="444.22" y1="112.0" x2="444.22" y2="113.8" stroke="#111" stroke-width="0.8"/>
<line x1="463.04" y1="112.0" x2="463.04" y2="113.8" stroke="#111" stroke-width="0.8"/>
<line x1="481.86" y1="112.0" x2="481.86" y2="113.8" stroke="#111" stroke-width="0.8"/>
<line x1="500.68" y1="112.0" x2="500.68" y2="113.8" stroke="#111" stroke-width="0.8"/>
<text x="0" y="0" font-size="12.6" text-anchor="middle" fill="#111" transform="translate(300.9,62.2) rotate(-90)">Pten mRNA</text>
<text x="339.00" y="127.30" font-size="11.2" text-anchor="middle" font-weight="normal" fill="#111" >1</text>
<text x="358.60" y="127.30" font-size="11.2" text-anchor="middle" font-weight="normal" fill="#111" >2</text>
<text x="0" y="0" font-size="11.8" text-anchor="middle" fill="#111" transform="translate(396.86,126.0) rotate(-22)">035</text>
<text x="0" y="0" font-size="11.8" text-anchor="middle" fill="#111" transform="translate(415.68,126.0) rotate(-22)">164</text>
<text x="0" y="0" font-size="11.8" text-anchor="middle" fill="#111" transform="translate(434.50,126.0) rotate(-22)">187</text>
<text x="0" y="0" font-size="11.8" text-anchor="middle" fill="#111" transform="translate(453.32,126.0) rotate(-22)">296</text>
<text x="0" y="0" font-size="11.8" text-anchor="middle" fill="#111" transform="translate(472.14,126.0) rotate(-22)">031</text>
<text x="0" y="0" font-size="11.8" text-anchor="middle" fill="#111" transform="translate(490.96,126.0) rotate(-22)">157</text>
<text x="0" y="0" font-size="11.8" text-anchor="middle" fill="#111" transform="translate(509.78,126.0) rotate(-22)">188</text>
<line x1="328" y1="132.2" x2="366.2" y2="132.2" stroke="#111" stroke-width="1.4"/>
<line x1="386.3" y1="132.2" x2="518.5" y2="132.2" stroke="#111" stroke-width="1.4"/>
<text x="347.00" y="145.00" font-size="12.6" text-anchor="middle" font-weight="normal" fill="#111" >Control</text>
<text x="451.60" y="145.00" font-size="12.7" text-anchor="middle" font-weight="normal" fill="#111" >R26-βcat tumor</text>
<text x="276.80" y="157.50" font-size="14" text-anchor="start" font-weight="bold" fill="#111" >C</text>
<text x="307.80" y="170.50" font-size="12.5" text-anchor="middle" font-weight="normal" fill="#111" >Control</text>
<text x="400.50" y="170.60" font-size="12.85" text-anchor="middle" font-weight="normal" fill="#111" >R26-βcat tumor</text>
<line x1="292.5" y1="176.3" x2="325.5" y2="176.3" stroke="#111" stroke-width="1.4"/>
<line x1="329.5" y1="176.3" x2="474.8" y2="176.3" stroke="#111" stroke-width="1.4"/>
<text x="300.90" y="198.80" font-size="11.5" text-anchor="middle" font-weight="normal" fill="#111" >1</text>
<text x="316.30" y="198.80" font-size="11.5" text-anchor="middle" font-weight="normal" fill="#111" >2</text>
<text x="0" y="0" font-size="12" text-anchor="middle" fill="#111" transform="translate(336.30,193.0) rotate(-45)">035</text>
<text x="0" y="0" font-size="12" text-anchor="middle" fill="#111" transform="translate(353.40,193.0) rotate(-45)">164</text>
<text x="0" y="0" font-size="12" text-anchor="middle" fill="#111" transform="translate(372.20,193.0) rotate(-45)">187</text>
<text x="0" y="0" font-size="12" text-anchor="middle" fill="#111" transform="translate(390.10,193.0) rotate(-45)">296</text>
<text x="0" y="0" font-size="12" text-anchor="middle" fill="#111" transform="translate(412.00,193.0) rotate(-45)">157</text>
<text x="0" y="0" font-size="12" text-anchor="middle" fill="#111" transform="translate(429.10,193.0) rotate(-45)">188</text>
<text x="0" y="0" font-size="12" text-anchor="middle" fill="#111" transform="translate(446.70,193.0) rotate(-45)">049</text>
<text x="0" y="0" font-size="12" text-anchor="middle" fill="#111" transform="translate(464.80,193.0) rotate(-45)">083</text>
<ellipse cx="300.60" cy="211.30" rx="6.75" ry="3.75" fill="#000" fill-opacity="1" filter="url(#b8)"/>
<ellipse cx="316.30" cy="211.30" rx="7.50" ry="4.25" fill="#000" fill-opacity="1" filter="url(#b8)"/>
<ellipse cx="333.00" cy="211.00" rx="6.50" ry="3.75" fill="#000" fill-opacity="1" filter="url(#b8)"/>
<ellipse cx="369.40" cy="212.30" rx="5.25" ry="1.70" fill="#000" fill-opacity="0.95" filter="url(#b8)"/>
<ellipse cx="408.20" cy="209.20" rx="6.25" ry="3.10" fill="#000" fill-opacity="1" filter="url(#b8)"/>
<ellipse cx="442.80" cy="211.80" rx="8.50" ry="4.30" fill="#000" fill-opacity="1" filter="url(#b8)"/>
<ellipse cx="461.40" cy="211.80" rx="8.50" ry="4.10" fill="#000" fill-opacity="1" filter="url(#b8)"/>
<ellipse cx="300.00" cy="229.30" rx="7.25" ry="3.00" fill="#000" fill-opacity="1" filter="url(#b8)"/>
<ellipse cx="316.30" cy="229.47" rx="6.25" ry="3.00" fill="#000" fill-opacity="1" filter="url(#b8)"/>
<ellipse cx="332.60" cy="229.64" rx="6.25" ry="3.50" fill="#000" fill-opacity="1" filter="url(#b8)"/>
<ellipse cx="350.00" cy="229.83" rx="6.25" ry="3.25" fill="#000" fill-opacity="1" filter="url(#b8)"/>
<ellipse cx="368.80" cy="230.02" rx="7.50" ry="3.50" fill="#000" fill-opacity="1" filter="url(#b8)"/>
<ellipse cx="386.80" cy="230.21" rx="7.00" ry="3.50" fill="#000" fill-opacity="1" filter="url(#b8)"/>
<ellipse cx="408.60" cy="230.44" rx="7.50" ry="4.00" fill="#000" fill-opacity="1" filter="url(#b8)"/>
<ellipse cx="425.70" cy="230.62" rx="8.00" ry="4.00" fill="#000" fill-opacity="1" filter="url(#b8)"/>
<ellipse cx="443.50" cy="230.81" rx="8.50" ry="4.00" fill="#000" fill-opacity="1" filter="url(#b8)"/>
<ellipse cx="462.10" cy="231.00" rx="8.25" ry="4.00" fill="#000" fill-opacity="1" filter="url(#b8)"/>
<text x="476.20" y="213.80" font-size="12.5" text-anchor="start" font-weight="normal" fill="#111" >Pten</text>
<text x="476.20" y="229.40" font-size="12.5" text-anchor="start" font-weight="normal" fill="#111" >β-actin</text>
<text x="276.60" y="260.80" font-size="14" text-anchor="start" font-weight="bold" fill="#111" >D</text>
<text x="402.50" y="264.60" font-size="12.5" text-anchor="middle" font-weight="normal" fill="#111" >R26-βcat</text>
<line x1="353.8" y1="266.6" x2="451.4" y2="266.6" stroke="#111" stroke-width="1.3"/>
<text x="325.60" y="280.00" font-size="12.0" text-anchor="middle" font-weight="normal" fill="#111" >Control</text>
<text x="366.30" y="280.00" font-size="12.0" text-anchor="middle" font-weight="normal" fill="#111" >035</text>
<text x="404.50" y="280.00" font-size="12.0" text-anchor="middle" font-weight="normal" fill="#111" >164</text>
<text x="442.80" y="280.00" font-size="12.0" text-anchor="middle" font-weight="normal" fill="#111" >187</text>
<line x1="311.3" y1="282.4" x2="345" y2="282.4" stroke="#111" stroke-width="1.3"/>
<line x1="351.3" y1="282.4" x2="383.8" y2="282.4" stroke="#111" stroke-width="1.3"/>
<line x1="390.2" y1="282.4" x2="421.7" y2="282.4" stroke="#111" stroke-width="1.3"/>
<line x1="428" y1="282.4" x2="459.4" y2="282.4" stroke="#111" stroke-width="1.3"/>
<text x="318.80" y="294.60" font-size="12.0" text-anchor="middle" font-weight="normal" fill="#111" >1</text>
<text x="338.20" y="294.60" font-size="12.0" text-anchor="middle" font-weight="normal" fill="#111" >2</text>
<text x="358.20" y="294.60" font-size="12.0" text-anchor="middle" font-weight="normal" fill="#111" >T</text>
<text x="377.60" y="294.60" font-size="12.0" text-anchor="middle" font-weight="normal" fill="#111" >CL</text>
<text x="396.50" y="294.60" font-size="12.0" text-anchor="middle" font-weight="normal" fill="#111" >T</text>
<text x="416.00" y="294.60" font-size="12.0" text-anchor="middle" font-weight="normal" fill="#111" >CL</text>
<text x="434.80" y="294.60" font-size="12.0" text-anchor="middle" font-weight="normal" fill="#111" >T</text>
<text x="454.70" y="294.60" font-size="12.0" text-anchor="middle" font-weight="normal" fill="#111" >CL</text>
<line x1="348.8" y1="297.5" x2="348.8" y2="327.5" stroke="#111" stroke-width="0.9"/>
<rect x="313.75" y="302.20" width="15.50" height="6.20" rx="3.10" fill="#000" fill-opacity="1" filter="url(#b8)"/>
<rect x="332.70" y="302.20" width="15.00" height="6.20" rx="3.10" fill="#000" fill-opacity="1" filter="url(#b8)"/>
<rect x="350.85" y="303.90" width="15.50" height="4.80" rx="2.40" fill="#000" fill-opacity="0.8" filter="url(#b8)"/>
<rect x="429.05" y="307.20" width="13.50" height="3.20" rx="1.60" fill="#000" fill-opacity="0.35" filter="url(#b8)"/>
<rect x="315.75" y="319.30" width="12.50" height="2.40" rx="1.20" fill="#000" fill-opacity="0.75" filter="url(#b6)"/>
<rect x="335.65" y="319.50" width="10.50" height="2.20" rx="1.10" fill="#000" fill-opacity="0.6" filter="url(#b6)"/>
<rect x="350.05" y="318.90" width="17.50" height="3.40" rx="1.70" fill="#000" fill-opacity="1" filter="url(#b8)"/>
<rect x="370.05" y="317.90" width="15.50" height="3.20" rx="1.60" fill="#000" fill-opacity="0.75" filter="url(#b8)"/>
<rect x="390.90" y="318.20" width="16.00" height="3.60" rx="1.80" fill="#000" fill-opacity="0.85" filter="url(#b8)"/>
<rect x="410.95" y="319.10" width="13.50" height="2.60" rx="1.30" fill="#000" fill-opacity="0.6" filter="url(#b8)"/>
<rect x="427.05" y="320.60" width="17.50" height="4.00" rx="2.00" fill="#000" fill-opacity="1" filter="url(#b8)"/>
<rect x="447.25" y="320.50" width="13.50" height="2.60" rx="1.30" fill="#000" fill-opacity="0.62" filter="url(#b8)"/>
<text x="467.50" y="310.80" font-size="12.5" text-anchor="start" font-weight="normal" fill="#111" >Pten</text>
<text x="467.50" y="324.40" font-size="12.5" text-anchor="start" font-weight="normal" fill="#111" >β-actin</text>
<text x="-1.40" y="351.90" font-size="14" text-anchor="start" font-weight="bold" fill="#111" >E</text>
<line x1="45.9" y1="490.96" x2="243.8" y2="490.96" stroke="#aaa" stroke-width="1"/>
<line x1="45.9" y1="469.22" x2="243.8" y2="469.22" stroke="#aaa" stroke-width="1"/>
<line x1="45.9" y1="447.48" x2="243.8" y2="447.48" stroke="#aaa" stroke-width="1"/>
<line x1="45.9" y1="425.74" x2="243.8" y2="425.74" stroke="#aaa" stroke-width="1"/>
<line x1="45.9" y1="404.00" x2="243.8" y2="404.00" stroke="#aaa" stroke-width="1"/>
<line x1="45.9" y1="399.0" x2="45.9" y2="512.7" stroke="#111" stroke-width="1.4"/>
<line x1="45.9" y1="512.7" x2="243.8" y2="512.7" stroke="#111" stroke-width="1.3"/>
<line x1="43.9" y1="512.70" x2="45.9" y2="512.70" stroke="#111" stroke-width="1"/>
<text x="40.30" y="518.20" font-size="12.3" text-anchor="end" font-weight="normal" fill="#111" >0</text>
<line x1="43.9" y1="490.96" x2="45.9" y2="490.96" stroke="#111" stroke-width="1"/>
<text x="40.30" y="496.46" font-size="12.3" text-anchor="end" font-weight="normal" fill="#111" >20</text>
<line x1="43.9" y1="469.22" x2="45.9" y2="469.22" stroke="#111" stroke-width="1"/>
<text x="40.30" y="474.72" font-size="12.3" text-anchor="end" font-weight="normal" fill="#111" >40</text>
<line x1="43.9" y1="447.48" x2="45.9" y2="447.48" stroke="#111" stroke-width="1"/>
<text x="40.30" y="452.98" font-size="12.3" text-anchor="end" font-weight="normal" fill="#111" >60</text>
<line x1="43.9" y1="425.74" x2="45.9" y2="425.74" stroke="#111" stroke-width="1"/>
<text x="40.30" y="431.24" font-size="12.3" text-anchor="end" font-weight="normal" fill="#111" >80</text>
<line x1="43.9" y1="404.00" x2="45.9" y2="404.00" stroke="#111" stroke-width="1"/>
<text x="40.30" y="409.50" font-size="12.3" text-anchor="end" font-weight="normal" fill="#111" >100</text>
<line x1="45.90" y1="512.7" x2="45.90" y2="514.9000000000001" stroke="#111" stroke-width="1"/>
<text x="46.40" y="527.60" font-size="12.5" text-anchor="middle" font-weight="normal" fill="#111" >0</text>
<line x1="89.50" y1="512.7" x2="89.50" y2="514.9000000000001" stroke="#111" stroke-width="1"/>
<text x="90.00" y="527.60" font-size="12.5" text-anchor="middle" font-weight="normal" fill="#111" >10</text>
<line x1="133.10" y1="512.7" x2="133.10" y2="514.9000000000001" stroke="#111" stroke-width="1"/>
<text x="133.60" y="527.60" font-size="12.5" text-anchor="middle" font-weight="normal" fill="#111" >20</text>
<line x1="176.70" y1="512.7" x2="176.70" y2="514.9000000000001" stroke="#111" stroke-width="1"/>
<text x="177.20" y="527.60" font-size="12.5" text-anchor="middle" font-weight="normal" fill="#111" >30</text>
<line x1="220.30" y1="512.7" x2="220.30" y2="514.9000000000001" stroke="#111" stroke-width="1"/>
<text x="220.80" y="527.60" font-size="12.5" text-anchor="middle" font-weight="normal" fill="#111" >40</text>
<text x="141.80" y="541.60" font-size="12.2" text-anchor="middle" font-weight="normal" fill="#111" >Weeks</text>
<text x="0" y="0" font-size="12.5" text-anchor="middle" fill="#111" transform="translate(16.4,458.8) rotate(-90)">% survival</text>
<polyline points="45.90,404.00 124.38,404.00 124.38,409.87 137.46,409.87 137.46,431.18 163.62,431.18 163.62,463.24 176.70,463.24 176.70,490.96 198.50,490.96 198.50,495.31 220.30,495.31 220.30,510.53 242.10,510.53" fill="none" stroke="#999" stroke-width="1.5"/>
<path d="M121.98,409.87 L124.38,407.47 L126.78,409.87 L124.38,412.27 Z" fill="#cfcfcf" stroke="#999" stroke-width="1"/>
<path d="M135.06,409.87 L137.46,407.47 L139.86,409.87 L137.46,412.27 Z" fill="#cfcfcf" stroke="#999" stroke-width="1"/>
<path d="M135.06,431.18 L137.46,428.78 L139.86,431.18 L137.46,433.57 Z" fill="#cfcfcf" stroke="#999" stroke-width="1"/>
<path d="M148.14,431.18 L150.54,428.78 L152.94,431.18 L150.54,433.57 Z" fill="#cfcfcf" stroke="#999" stroke-width="1"/>
<path d="M161.22,431.18 L163.62,428.78 L166.02,431.18 L163.62,433.57 Z" fill="#cfcfcf" stroke="#999" stroke-width="1"/>
<path d="M161.22,463.24 L163.62,460.84 L166.02,463.24 L163.62,465.64 Z" fill="#cfcfcf" stroke="#999" stroke-width="1"/>
<path d="M174.30,463.24 L176.70,460.84 L179.10,463.24 L176.70,465.64 Z" fill="#cfcfcf" stroke="#999" stroke-width="1"/>
<path d="M174.30,490.96 L176.70,488.56 L179.10,490.96 L176.70,493.36 Z" fill="#cfcfcf" stroke="#999" stroke-width="1"/>
<path d="M196.10,490.96 L198.50,488.56 L200.90,490.96 L198.50,493.36 Z" fill="#cfcfcf" stroke="#999" stroke-width="1"/>
<path d="M196.10,495.31 L198.50,492.91 L200.90,495.31 L198.50,497.71 Z" fill="#cfcfcf" stroke="#999" stroke-width="1"/>
<path d="M217.90,495.31 L220.30,492.91 L222.70,495.31 L220.30,497.71 Z" fill="#cfcfcf" stroke="#999" stroke-width="1"/>
<path d="M217.90,510.53 L220.30,508.13 L222.70,510.53 L220.30,512.93 Z" fill="#cfcfcf" stroke="#999" stroke-width="1"/>
<path d="M239.70,510.53 L242.10,508.13 L244.50,510.53 L242.10,512.93 Z" fill="#cfcfcf" stroke="#999" stroke-width="1"/>
<polyline points="45.90,404.00 137.46,404.00 137.46,411.07 242.10,411.07" fill="none" stroke="#111" stroke-width="1.5"/>
<polyline points="45.90,404.00 98.22,404.00 98.22,423.35 111.30,423.35 111.30,452.15 124.38,452.15 124.38,479.00 137.46,479.00 137.46,503.13 150.54,503.13 150.54,512.70 242.10,512.70" fill="none" stroke="#111" stroke-width="1.6"/>
<path d="M95.52,425.25 L98.22,420.55 L100.92,425.25 Z" fill="#111"/>
<path d="M108.60,425.25 L111.30,420.55 L114.00,425.25 Z" fill="#111"/>
<path d="M108.60,454.05 L111.30,449.35 L114.00,454.05 Z" fill="#111"/>
<path d="M121.68,454.05 L124.38,449.35 L127.08,454.05 Z" fill="#111"/>
<path d="M121.68,480.90 L124.38,476.20 L127.08,480.90 Z" fill="#111"/>
<path d="M134.76,480.90 L137.46,476.20 L140.16,480.90 Z" fill="#111"/>
<path d="M134.76,505.03 L137.46,500.33 L140.16,505.03 Z" fill="#111"/>
<path d="M147.84,505.03 L150.54,500.33 L153.24,505.03 Z" fill="#111"/>
<path d="M147.84,514.60 L150.54,509.90 L153.24,514.60 Z" fill="#111"/>
<path d="M160.92,514.60 L163.62,509.90 L166.32,514.60 Z" fill="#111"/>
<path d="M174.00,514.60 L176.70,509.90 L179.40,514.60 Z" fill="#111"/>
<path d="M195.80,514.60 L198.50,509.90 L201.20,514.60 Z" fill="#111"/>
<path d="M217.60,514.60 L220.30,509.90 L223.00,514.60 Z" fill="#111"/>
<path d="M239.40,514.60 L242.10,509.90 L244.80,514.60 Z" fill="#111"/>
<rect x="43.30" y="401.40" width="5.2" height="5.2" fill="#111"/>
<rect x="56.38" y="401.40" width="5.2" height="5.2" fill="#111"/>
<rect x="69.46" y="401.40" width="5.2" height="5.2" fill="#111"/>
<rect x="82.54" y="401.40" width="5.2" height="5.2" fill="#111"/>
<rect x="95.62" y="401.40" width="5.2" height="5.2" fill="#111"/>
<rect x="109.20" y="401.90" width="4.2" height="4.2" rx="0.5" fill="#fff" stroke="#111" stroke-width="1.1"/>
<rect x="122.28" y="401.90" width="4.2" height="4.2" rx="0.5" fill="#fff" stroke="#111" stroke-width="1.1"/>
<rect x="135.36" y="401.90" width="4.2" height="4.2" rx="0.5" fill="#fff" stroke="#111" stroke-width="1.1"/>
<rect x="135.36" y="408.97" width="4.2" height="4.2" rx="0.5" fill="#fff" stroke="#111" stroke-width="1.1"/>
<rect x="148.44" y="408.97" width="4.2" height="4.2" rx="0.5" fill="#fff" stroke="#111" stroke-width="1.1"/>
<rect x="161.52" y="408.97" width="4.2" height="4.2" rx="0.5" fill="#fff" stroke="#111" stroke-width="1.1"/>
<rect x="174.60" y="408.97" width="4.2" height="4.2" rx="0.5" fill="#fff" stroke="#111" stroke-width="1.1"/>
<rect x="196.40" y="408.97" width="4.2" height="4.2" rx="0.5" fill="#fff" stroke="#111" stroke-width="1.1"/>
<rect x="218.20" y="408.97" width="4.2" height="4.2" rx="0.5" fill="#fff" stroke="#111" stroke-width="1.1"/>
<rect x="240.00" y="408.97" width="4.2" height="4.2" rx="0.5" fill="#fff" stroke="#111" stroke-width="1.1"/>
<rect x="61.5" y="466.5" width="54" height="13" fill="#fff"/>
<text x="62.0" y="476.3" font-size="12.3" fill="#111">p=2x10<tspan font-size="7.3" dy="-4.6">-10</tspan></text>
<line x1="51" y1="349.7" x2="74.5" y2="349.7" stroke="#111" stroke-width="1.5"/>
<line x1="51" y1="368.4" x2="74.5" y2="368.4" stroke="#999" stroke-width="1.5"/>
<line x1="51" y1="387.4" x2="74.5" y2="387.4" stroke="#111" stroke-width="1.5"/>
<path d="M59.2,352.2 L62.6,346.2 L66.0,352.2 Z" fill="#111"/>
<path d="M59.1,368.4 L62.6,365.0 L66.1,368.4 L62.6,371.8 Z" fill="#999"/>
<rect x="59.7" y="384.5" width="5.8" height="5.8" rx="0.8" fill="#fff" stroke="#111" stroke-width="1.4"/>
<text x="81.0" y="355.0" font-size="12.65" fill="#111">Pten<tspan font-size="7.2" dy="-4.3">fl/+</tspan><tspan dy="4.3">R26-βcat (n=12)</tspan></text>
<text x="81.0" y="373.4" font-size="12.65" fill="#111">Pten<tspan font-size="7.2" dy="-4.3">+/+</tspan><tspan dy="4.3">R26-βcat (n=44)</tspan></text>
<text x="81.0" y="392.2" font-size="12.65" fill="#111">Pten<tspan font-size="7.2" dy="-4.3">fl/+</tspan><tspan dy="4.3">Control (n=13)</tspan></text>
<text x="276.70" y="351.80" font-size="14" text-anchor="start" font-weight="bold" fill="#111" >F</text>
<rect x="312" y="427" width="156" height="37" fill="#f8f8f8"/>
<text x="299.5" y="393.7" font-size="12.3" fill="#111">Pten<tspan font-size="7.2" dy="-4.3">+/+</tspan></text>
<text x="317.00" y="410.00" font-size="12.3" text-anchor="middle" font-weight="normal" fill="#111" >Control</text>
<text x="357.5" y="393.2" font-size="12.3" fill="#111">Pten<tspan font-size="7.2" dy="-4.3">fl/+</tspan><tspan dy="4.3"> R26-βcat</tspan></text>
<line x1="341.3" y1="395.5" x2="462.5" y2="395.5" stroke="#111" stroke-width="1.2"/>
<text x="400.60" y="410.00" font-size="12.3" text-anchor="middle" font-weight="normal" fill="#111" >Tumor</text>
<line x1="360" y1="411.3" x2="440.5" y2="411.3" stroke="#111" stroke-width="1.2"/>
<text x="347.00" y="425.00" font-size="12.3" text-anchor="middle" font-weight="normal" fill="#111" >PT</text>
<text x="368.00" y="425.00" font-size="12.3" text-anchor="middle" font-weight="normal" fill="#111" >1</text>
<text x="390.40" y="425.00" font-size="12.3" text-anchor="middle" font-weight="normal" fill="#111" >2</text>
<text x="411.90" y="425.00" font-size="12.3" text-anchor="middle" font-weight="normal" fill="#111" >3</text>
<text x="433.30" y="425.00" font-size="12.3" text-anchor="middle" font-weight="normal" fill="#111" >4</text>
<text x="456.50" y="425.00" font-size="12.3" text-anchor="middle" font-weight="normal" fill="#111" >Spl</text>
<rect x="311.5" y="427.3" width="24.2" height="17.8" rx="7" ry="6" fill="#000" filter="url(#b8)"/>
<rect x="336.85" y="433.80" width="18.50" height="7.00" rx="3.50" fill="#000" fill-opacity="1" filter="url(#b8)"/>
<rect x="361.80" y="436.00" width="14.00" height="2.80" rx="1.40" fill="#000" fill-opacity="0.4" filter="url(#b8)"/>
<rect x="449.25" y="434.40" width="13.50" height="4.40" rx="2.20" fill="#000" fill-opacity="1" filter="url(#b8)"/>
<rect x="314.55" y="452.40" width="16.50" height="6.00" rx="3.00" fill="#000" fill-opacity="1" filter="url(#b8)"/>
<rect x="337.00" y="454.50" width="18.00" height="5.40" rx="2.70" fill="#000" fill-opacity="1" filter="url(#b8)"/>
<rect x="359.45" y="454.60" width="17.50" height="5.40" rx="2.70" fill="#000" fill-opacity="1" filter="url(#b8)"/>
<rect x="383.55" y="455.30" width="15.50" height="5.00" rx="2.50" fill="#000" fill-opacity="1" filter="url(#b8)"/>
<rect x="405.30" y="454.60" width="17.00" height="5.40" rx="2.70" fill="#000" fill-opacity="1" filter="url(#b8)"/>
<rect x="427.75" y="453.60" width="17.50" height="4.80" rx="2.40" fill="#000" fill-opacity="0.8" filter="url(#b8)"/>
<rect x="448.30" y="452.30" width="17.00" height="5.40" rx="2.70" fill="#000" fill-opacity="1" filter="url(#b8)"/>
<text x="467.50" y="441.30" font-size="12.5" text-anchor="start" font-weight="normal" fill="#111" >Pten</text>
<text x="467.50" y="456.40" font-size="12.5" text-anchor="start" font-weight="normal" fill="#111" >β-actin</text>
</svg>
</body></html>
